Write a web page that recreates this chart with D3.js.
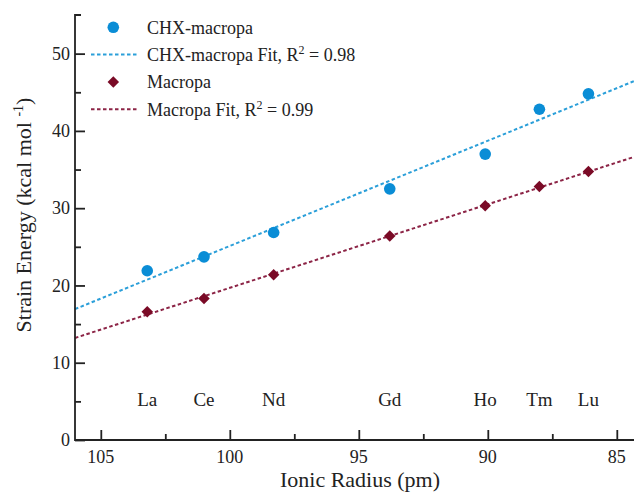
<!DOCTYPE html>
<html>
<head>
<meta charset="utf-8">
<script src="https://cdn.jsdelivr.net/npm/d3@7"></script>
<style>
  body { margin: 0; background: #fff; }
  text { font-family: "Liberation Serif", "Times New Roman", serif; fill: #222; }
</style>
</head>
<body>
<script>
const elements = ['La', 'Ce', 'Nd', 'Gd', 'Ho', 'Tm', 'Lu'];
const radius = [103.2, 101.0, 98.3, 93.8, 90.1, 88.0, 86.1];
const chxMacropa = [21.9, 23.7, 26.85, 32.5, 37.0, 42.8, 44.8];
const macropa = [16.6, 18.3, 21.4, 26.4, 30.3, 32.8, 34.75];
const xTicks = [105, 100, 95, 90, 85];
const xMinor = [102.5, 97.5, 92.5, 87.5];
const yTicks = [0, 10, 20, 30, 40, 50];
const yMinor = [5, 15, 25, 35, 45];

const width = 634, height = 492;
const blue = '#0a8dd6', blueLine = '#2b9fd9';
const red = '#7a0a26', redLine = '#8c2446';

const svg = d3.select('body').append('svg')
  .attr('width', width)
  .attr('height', height);

const x = d3.scaleLinear().domain([106, 84]).range([75, 642.6]);
const y = d3.scaleLinear().domain([0, 55]).range([440, 15]);

// least squares fit
const fit = (xs, ys) => {
  const mx = d3.mean(xs), my = d3.mean(ys);
  const b = d3.sum(xs, (v, i) => (v - mx) * (ys[i] - my)) / d3.sum(xs, v => (v - mx) ** 2);
  return v => my + b * (v - mx);
};

const fits = [
  { f: fit(radius, chxMacropa), color: blueLine },
  { f: fit(radius, macropa), color: redLine }
];

fits.forEach(d => {
  const xs = x.domain();
  svg.append('line')
    .attr('x1', x(xs[0])).attr('y1', y(d.f(xs[0])))
    .attr('x2', x(xs[1])).attr('y2', y(d.f(xs[1])))
    .attr('stroke', d.color)
    .attr('stroke-width', 2)
    .attr('stroke-dasharray', '3.5,2.5');
});

// axes
const axisG = svg.append('g');
axisG.append('g')
  .attr('transform', `translate(0,${y(0)})`)
  .call(d3.axisTop(x).tickValues(xTicks).tickSize(10).tickFormat(''))
  .call(g => g.select('.domain').remove());
axisG.append('g')
  .attr('transform', `translate(0,${y(0)})`)
  .call(d3.axisTop(x).tickValues(xMinor).tickSize(6).tickFormat(''))
  .call(g => g.select('.domain').remove());
axisG.append('g')
  .attr('transform', `translate(${x(106)},0)`)
  .call(d3.axisRight(y).tickValues(yTicks).tickSize(10).tickFormat(''))
  .call(g => g.select('.domain').remove());
axisG.append('g')
  .attr('transform', `translate(${x(106)},0)`)
  .call(d3.axisRight(y).tickValues(yMinor).tickSize(6).tickFormat(''))
  .call(g => g.select('.domain').remove());
axisG.selectAll('line').attr('stroke', '#222').attr('stroke-width', 1.8);

// axis lines (with small cap at the top)
svg.append('path')
  .attr('d', `M${x(106) + 6},${y(55)}H${x(106)}V${y(0)}H${x(84)}`)
  .attr('fill', 'none')
  .attr('stroke', '#222')
  .attr('stroke-width', 1.8);

svg.selectAll('.xlab').data(xTicks).join('text')
  .attr('x', d => x(d))
  .attr('y', 463)
  .attr('text-anchor', 'middle')
  .attr('font-size', 18)
  .text(d => d);

svg.selectAll('.ylab').data(yTicks).join('text')
  .attr('x', 70)
  .attr('y', d => y(d))
  .attr('dy', '0.35em')
  .attr('text-anchor', 'end')
  .attr('font-size', 18)
  .text(d => d);

svg.append('text')
  .attr('x', 360)
  .attr('y', 487)
  .attr('text-anchor', 'middle')
  .attr('font-size', 22)
  .text('Ionic Radius (pm)');

const yt = svg.append('text')
  .attr('transform', 'translate(31,215) rotate(-90)')
  .attr('text-anchor', 'middle')
  .attr('font-size', 22);
yt.append('tspan').text('Strain Energy (kcal mol ');
yt.append('tspan').attr('font-size', 14).attr('dy', -8).text('-1');
yt.append('tspan').attr('dy', 8).text(')');

// element labels
svg.selectAll('.el').data(elements).join('text')
  .attr('x', (d, i) => x(radius[i]))
  .attr('y', 406)
  .attr('text-anchor', 'middle')
  .attr('font-size', 19)
  .text(d => d);

// points
svg.selectAll('.chx').data(chxMacropa).join('circle')
  .attr('cx', (d, i) => x(radius[i]))
  .attr('cy', d => y(d))
  .attr('r', 5.8)
  .attr('fill', blue);

const diamond = d3.symbol().type(d3.symbolSquare).size(66);
svg.selectAll('.mac').data(macropa).join('path')
  .attr('d', diamond)
  .attr('transform', (d, i) => `translate(${x(radius[i])},${y(d)}) rotate(45)`)
  .attr('fill', red);

// legend
const legend = svg.append('g');
const rows = [
  { kind: 'circle', label: 'CHX-macropa' },
  { kind: 'line', color: blueLine, label: 'CHX-macropa Fit, R', r2: '0.98' },
  { kind: 'diamond', label: 'Macropa' },
  { kind: 'line', color: redLine, label: 'Macropa Fit, R', r2: '0.99' }
];
rows.forEach((d, i) => {
  const cy = 27.3 + i * 27.3;
  if (d.kind === 'circle') {
    legend.append('circle').attr('cx', 113.3).attr('cy', cy).attr('r', 5.8).attr('fill', blue);
  } else if (d.kind === 'diamond') {
    legend.append('path').attr('d', diamond)
      .attr('transform', `translate(113.3,${cy}) rotate(45)`).attr('fill', red);
  } else {
    legend.append('line')
      .attr('x1', 91).attr('x2', 137).attr('y1', cy).attr('y2', cy)
      .attr('stroke', d.color).attr('stroke-width', 2)
      .attr('stroke-dasharray', '3.5,2.5');
  }
  const t = legend.append('text')
    .attr('x', 147)
    .attr('y', cy)
    .attr('dy', '0.35em')
    .attr('font-size', 18);
  t.append('tspan').text(d.label);
  if (d.r2) {
    t.append('tspan').attr('font-size', 12).attr('dy', -7).text('2');
    t.append('tspan').attr('dy', 7).text(' = ' + d.r2);
  }
});
</script>
</body>
</html>
